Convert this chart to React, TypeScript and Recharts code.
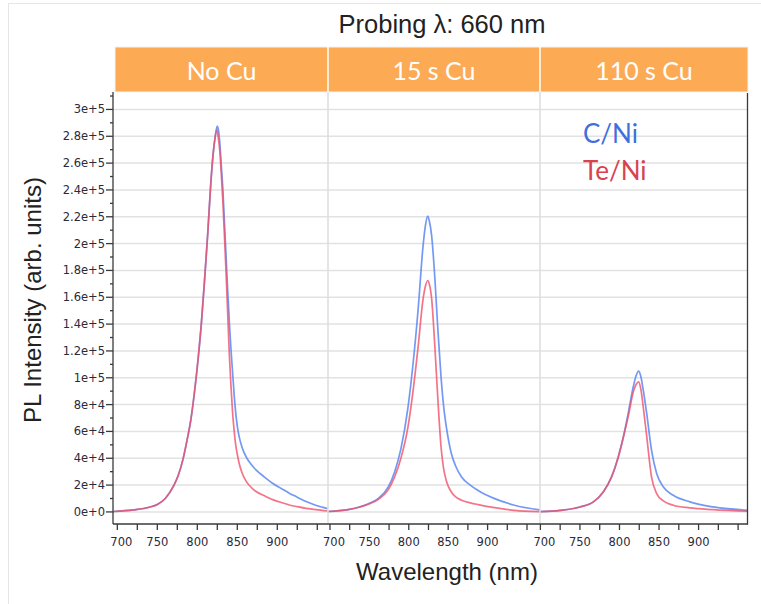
import React from 'react';
import { LineChart, Line, XAxis, YAxis, CartesianGrid } from 'recharts';

const chartTitle = 'Probing λ: 660 nm';
const panelTitles = ['No Cu', '15 s Cu', '110 s Cu'];
const seriesNames = ['C/Ni', 'Te/Ni'];
const xAxisLabel = 'Wavelength (nm)';
const yAxisLabel = 'PL Intensity (arb. units)';

// Panel 1: No Cu
const noCuWl = [695, 720, 740, 750, 760, 770, 776, 782, 787, 792, 797, 801, 805, 809, 813, 817, 820, 822, 824, 825, 826, 828, 830, 832, 834, 836, 838, 840, 842, 844, 846, 848, 850, 852, 856, 862, 868, 874, 884, 895, 905, 915, 925, 936, 948, 963];
const noCuC = [300, 1500, 3500, 5500, 10000, 19000, 27000, 39000, 53000, 69000, 92000, 114000, 140000, 172000, 207000, 246000, 268000, 278000, 285500, 287500, 286000, 276000, 258000, 240000, 215000, 190000, 165000, 142000, 122000, 105000, 88000, 74000, 64000, 57000, 48000, 40000, 35000, 31000, 26000, 21000, 17500, 14000, 11000, 7700, 5000, 2500];
const noCuTe = [300, 1500, 3500, 5500, 10000, 19000, 27000, 39000, 53000, 69000, 92000, 114000, 140000, 172000, 207000, 246000, 268000, 278000, 284500, 284000, 280000, 270000, 252000, 231000, 205000, 178000, 148000, 118000, 95000, 75000, 61000, 50000, 43000, 37000, 29000, 22000, 18000, 15000, 12000, 9000, 7000, 5200, 3900, 2700, 1700, 700];

// Panel 2: 15 s Cu
const cu15Wl = [697.5, 723, 748, 761, 774, 782, 790, 799, 805, 812, 818, 821, 824, 826, 829, 833, 837, 841, 844, 848, 854, 860, 867, 878, 888, 909, 934, 966.5];
const cu15C = [300, 1700, 5900, 9900, 18600, 29800, 47000, 78000, 108000, 152000, 197500, 213000, 220500, 217000, 206000, 175000, 135000, 100000, 80000, 62000, 43500, 33500, 26000, 20000, 16000, 9900, 5000, 1500];
const cu15Te = [300, 1700, 5500, 9200, 16600, 26100, 40000, 63400, 88200, 124000, 158000, 168000, 172500, 170000, 159000, 124000, 83000, 48000, 33000, 22500, 14900, 11000, 8700, 6800, 5500, 3200, 1200, 200];

// Panel 3: 110 s Cu
const cu110Wl = [699.5, 725, 750, 767, 779.5, 790, 798.5, 805, 811, 817.5, 821, 824.3, 827, 830, 834.5, 840.5, 847, 855.5, 868, 889, 918.5, 962.5];
const cu110C = [200, 1200, 3700, 7500, 14900, 26100, 41000, 56000, 73500, 93500, 101500, 105000, 101000, 91000, 73000, 46000, 28600, 18600, 12400, 7500, 3700, 1200];
const cu110Te = [200, 1200, 3700, 7500, 14900, 26100, 41000, 56000, 71000, 89500, 95000, 97000, 91500, 78500, 56000, 26100, 13700, 8200, 5000, 3000, 1700, 500];

const yTicks = [0, 10000, 20000, 30000, 40000, 50000, 60000, 70000, 80000, 90000, 100000, 110000, 120000, 130000, 140000, 150000, 160000, 170000, 180000, 190000, 200000, 210000, 220000, 230000, 240000, 250000, 260000, 270000, 280000, 290000, 300000, 310000];
const yMajor = [0, 20000, 40000, 60000, 80000, 100000, 120000, 140000, 160000, 180000, 200000, 220000, 240000, 260000, 280000, 300000];
const xTicks = [700, 725, 750, 775, 800, 825, 850, 875, 900, 925, 950];
const xLabeled = [700, 750, 800, 850, 900];

const Y_DOMAIN: [number, number] = [-9000, 313000];
const BLUE = '#5b87f2';
const RED = '#f0506a';
const AXIS = '#3a3a3a';
const TICK_FONT = 'DejaVu Sans, Verdana, sans-serif';
const SANS = 'Liberation Sans, Arial, sans-serif';

const build = (wl: number[], c: number[], te: number[]) =>
  wl.map((w, i) => ({ wl: w, c: c[i], te: te[i] }));

const panels = [
  { data: build(noCuWl, noCuC, noCuTe), left: 0, width: 328, yWidth: 113, domain: [694.6, 963.4] },
  { data: build(cu15Wl, cu15C, cu15Te), left: 328, width: 212, yWidth: 0, domain: [697.5, 966.5] },
  { data: build(cu110Wl, cu110C, cu110Te), left: 540, width: 208, yWidth: 0, domain: [699.5, 962.5] },
];

const XTick = (props: any) => {
  const { x, y, payload } = props;
  const v = payload.value;
  const lab = xLabeled.includes(v);
  return (
    <g>
      <line x1={x} x2={x} y1={y} y2={y + 6} stroke={AXIS} strokeWidth={1.3} />
      {lab && (
        <text x={x + (v === 700 ? 4 : 0)} y={y + 22} textAnchor="middle" fontSize={11.5} fontFamily={TICK_FONT} fill="#2a2a3a">
          {v}
        </text>
      )}
    </g>
  );
};

const YTick = (props: any) => {
  const { x, y, payload } = props;
  const v = payload.value;
  const major = yMajor.includes(v);
  return (
    <g>
      <line x1={x - (major ? 7 : 3)} x2={x} y1={y} y2={y} stroke={AXIS} strokeWidth={1.3} />
      {major && (
        <text x={x - 8} y={y + 4} textAnchor="end" fontSize={11.5} fontFamily={TICK_FONT} fill="#2a2a3a">
          {v.toExponential()}
        </text>
      )}
    </g>
  );
};

export default function App() {
  return (
    <div style={{ position: 'absolute', left: 0, top: 0, width: 761, height: 604, background: '#fff', overflow: 'hidden' }}>
      <style>{'.recharts-surface { overflow: visible; } .recharts-wrapper { overflow: visible; }'}</style>
      {panels.map((p, i) => (
        <div key={i} style={{ position: 'absolute', left: p.left, top: 92 }}>
          <LineChart width={p.width} height={462} data={p.data} margin={{ top: 0, right: 0, bottom: 0, left: 0 }}>
            <CartesianGrid vertical={false} horizontalValues={yMajor} stroke="#e2e2e2" strokeWidth={1.5} />
            <XAxis
              type="number"
              dataKey="wl"
              domain={p.domain}
              allowDataOverflow
              ticks={xTicks}
              interval={0}
              height={30}
              tickSize={0}
              tickMargin={0}
              tickLine={false}
              tick={<XTick />}
              axisLine={{ stroke: AXIS, strokeWidth: 1.3 }}
            />
            <YAxis
              type="number"
              domain={Y_DOMAIN}
              allowDataOverflow
              ticks={yTicks}
              interval={0}
              hide={i !== 0}
              width={p.yWidth || 60}
              tickSize={0}
              tickMargin={0}
              tickLine={false}
              tick={<YTick />}
              axisLine={{ stroke: AXIS, strokeWidth: 1.3 }}
            />
            <Line dataKey="c" name={seriesNames[0]} type="monotone" stroke={BLUE} strokeOpacity={0.85} strokeWidth={1.7} dot={false} isAnimationActive={false} />
            <Line dataKey="te" name={seriesNames[1]} type="monotone" stroke={RED} strokeOpacity={0.8} strokeWidth={1.7} dot={false} isAnimationActive={false} />
          </LineChart>
        </div>
      ))}
      <svg width={761} height={604} style={{ position: 'absolute', left: 0, top: 0, pointerEvents: 'none' }}>
        <line x1={8.5} x2={8.5} y1={3} y2={604} stroke="#e6e6e6" strokeWidth={1} />
        <line x1={8} x2={761} y1={3.5} y2={3.5} stroke="#e6e6e6" strokeWidth={1} />
        <text x={442} y={33} textAnchor="middle" fontSize={25.5} fontFamily={SANS} fill="#222">{chartTitle}</text>
        <rect x={115} y={47} width={633} height={45} fill="#fdaa55" stroke="#f3f3f3" strokeWidth={1} />
        <line x1={328} x2={328} y1={47} y2={92} stroke="#fff" strokeWidth={1.5} />
        <line x1={540} x2={540} y1={47} y2={92} stroke="#fff" strokeWidth={1.5} />
        <text x={221.5} y={80} textAnchor="middle" fontSize={25} fontFamily="Lato, sans-serif" fill="#fff">{panelTitles[0]}</text>
        <text x={434} y={80} textAnchor="middle" fontSize={25} fontFamily="Lato, sans-serif" fill="#fff">{panelTitles[1]}</text>
        <text x={644} y={80} textAnchor="middle" fontSize={25} fontFamily="Lato, sans-serif" fill="#fff">{panelTitles[2]}</text>
        <line x1={328} x2={328} y1={92} y2={523} stroke="#dcdcdc" strokeWidth={1.5} />
        <line x1={540} x2={540} y1={92} y2={523} stroke="#dcdcdc" strokeWidth={1.5} />
        <line x1={747.5} x2={747.5} y1={93} y2={524.5} stroke={AXIS} strokeWidth={1.3} />
        <text x={583} y={142.5} fontSize={26} fontFamily="Lato, sans-serif" fill="#3f6fdd">{seriesNames[0]}</text>
        <text x={583} y={180} fontSize={26} fontFamily="Lato, sans-serif" fill="#d7424f">{seriesNames[1]}</text>
        <text x={447} y={580} textAnchor="middle" fontSize={24} fontFamily={SANS} fill="#222">{xAxisLabel}</text>
        <text transform="translate(41,300) rotate(-90)" textAnchor="middle" fontSize={24} fontFamily={SANS} fill="#222">{yAxisLabel}</text>
      </svg>
    </div>
  );
}
